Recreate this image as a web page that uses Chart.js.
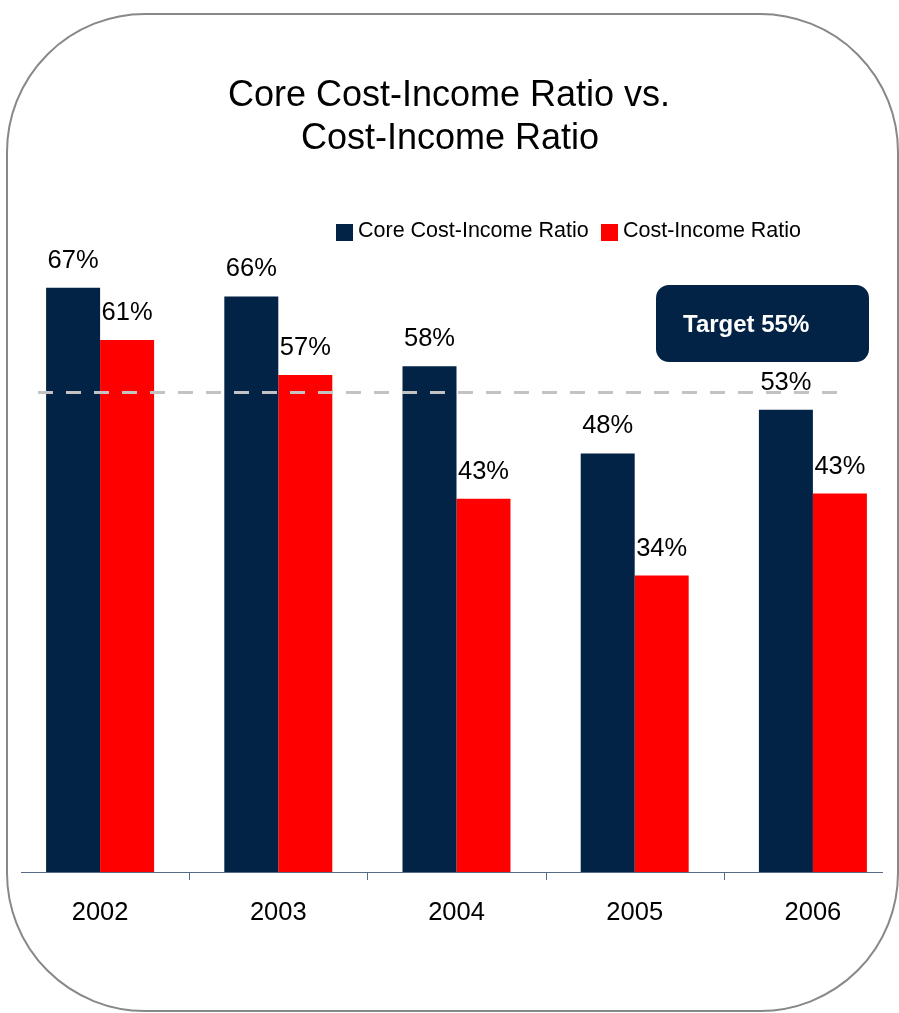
<!DOCTYPE html>
<html>
<head>
<meta charset="utf-8">
<script src="https://cdn.jsdelivr.net/npm/chart.js@4/dist/chart.umd.min.js"></script>
<style>
  html, body { margin: 0; padding: 0; overflow: hidden; background: #ffffff; }
  canvas { display: block; }
</style>
</head>
<body>
<canvas id="c" width="905" height="1013"></canvas>
<script>
// ---- data ----
const categories = ['2002', '2003', '2004', '2005', '2006'];
const coreCostIncome = [67, 66, 58, 48, 53];
const costIncome = [61, 57, 42.8, 34, 43.4];
const seriesNames = ['Core Cost-Income Ratio', 'Cost-Income Ratio'];
const targetValue = 55;
const titleLines = ['Core Cost-Income Ratio vs.', 'Cost-Income Ratio'];
const targetLabel = 'Target 55%';

const NAVY = '#022346';
const RED = '#FF0000';
const FONT = '"Liberation Sans", Arial, Helvetica, sans-serif';

const decor = {
  id: 'decor',
  beforeDraw(chart) {
    const ctx = chart.ctx;
    ctx.save();
    ctx.fillStyle = '#ffffff';
    ctx.fillRect(0, 0, chart.width, chart.height);
    ctx.restore();
  },
  afterDatasetsDraw(chart) {
    const ctx = chart.ctx;
    const xs = chart.scales.x, ys = chart.scales.y;
    const area = chart.chartArea;
    ctx.save();

    // data labels
    ctx.fillStyle = '#000';
    ctx.font = '25.5px ' + FONT;
    ctx.textAlign = 'center';
    ctx.textBaseline = 'alphabetic';
    chart.data.datasets.forEach((ds, di) => {
      chart.getDatasetMeta(di).data.forEach((bar, i) => {
        ctx.fillText(Math.round(ds.data[i]) + '%', bar.x, bar.y - 20);
      });
    });

    // target dashed line
    const ty = ys.getPixelForValue(targetValue);
    ctx.strokeStyle = '#C3C3C3';
    ctx.lineWidth = 3;
    ctx.setLineDash([15, 13]);
    ctx.beginPath();
    ctx.moveTo(38, ty);
    ctx.lineTo(840, ty);
    ctx.stroke();
    ctx.setLineDash([]);

    // target box
    ctx.fillStyle = NAVY;
    ctx.beginPath();
    ctx.roundRect(656, 285, 213, 77, 13);
    ctx.fill();
    ctx.fillStyle = '#ffffff';
    ctx.font = 'bold 24px ' + FONT;
    ctx.textAlign = 'left';
    ctx.fillText(targetLabel, 683, 332);

    // x axis line and ticks
    const base = ys.getPixelForValue(0);
    ctx.strokeStyle = '#566B85';
    ctx.lineWidth = 1;
    ctx.beginPath();
    ctx.moveTo(21, base + 0.5);
    ctx.lineTo(883, base + 0.5);
    for (let i = 0; i < categories.length - 1; i++) {
      const xm = Math.round((xs.getPixelForValue(i) + xs.getPixelForValue(i + 1)) / 2) + 0.5;
      ctx.moveTo(xm, base);
      ctx.lineTo(xm, base + 8);
    }
    ctx.stroke();

    // title
    ctx.fillStyle = '#000';
    ctx.font = '36px ' + FONT;
    ctx.textAlign = 'center';
    ctx.fillText(titleLines[0], 449, 106);
    ctx.fillText(titleLines[1], 450, 149);

    // legend
    ctx.font = '21.5px ' + FONT;
    ctx.textAlign = 'left';
    const legendX = [336, 601];
    chart.data.datasets.forEach((ds, di) => {
      ctx.fillStyle = ds.backgroundColor;
      ctx.fillRect(legendX[di], 224, 17, 17);
      ctx.fillStyle = '#000';
      ctx.fillText(ds.label, legendX[di] + 22, 237);
    });

    // frame
    ctx.strokeStyle = '#888888';
    ctx.lineWidth = 2;
    ctx.beginPath();
    ctx.roundRect(7, 14, 891, 997, 138);
    ctx.stroke();

    ctx.restore();
  }
};

new Chart(document.getElementById('c'), {
  type: 'bar',
  data: {
    labels: categories,
    datasets: [
      { label: seriesNames[0], data: coreCostIncome, backgroundColor: NAVY },
      { label: seriesNames[1], data: costIncome, backgroundColor: RED }
    ]
  },
  options: {
    responsive: false,
    animation: false,
    devicePixelRatio: 1,
    layout: { padding: { left: 11, right: 3, top: 0, bottom: 0 } },
    datasets: { bar: { categoryPercentage: 0.606, barPercentage: 1.0 } },
    scales: {
      x: {
        offset: true,
        grid: { display: false, drawTicks: false },
        border: { display: false },
        ticks: { color: '#000', font: { size: 25.5, family: FONT }, padding: 26 },
        afterFit(scale) { scale.height = 141; }
      },
      y: { display: false, min: 0, max: 100 }
    },
    plugins: {
      legend: { display: false },
      title: { display: false },
      tooltip: { enabled: false }
    }
  },
  plugins: [decor]
});
</script>
</body>
</html>
